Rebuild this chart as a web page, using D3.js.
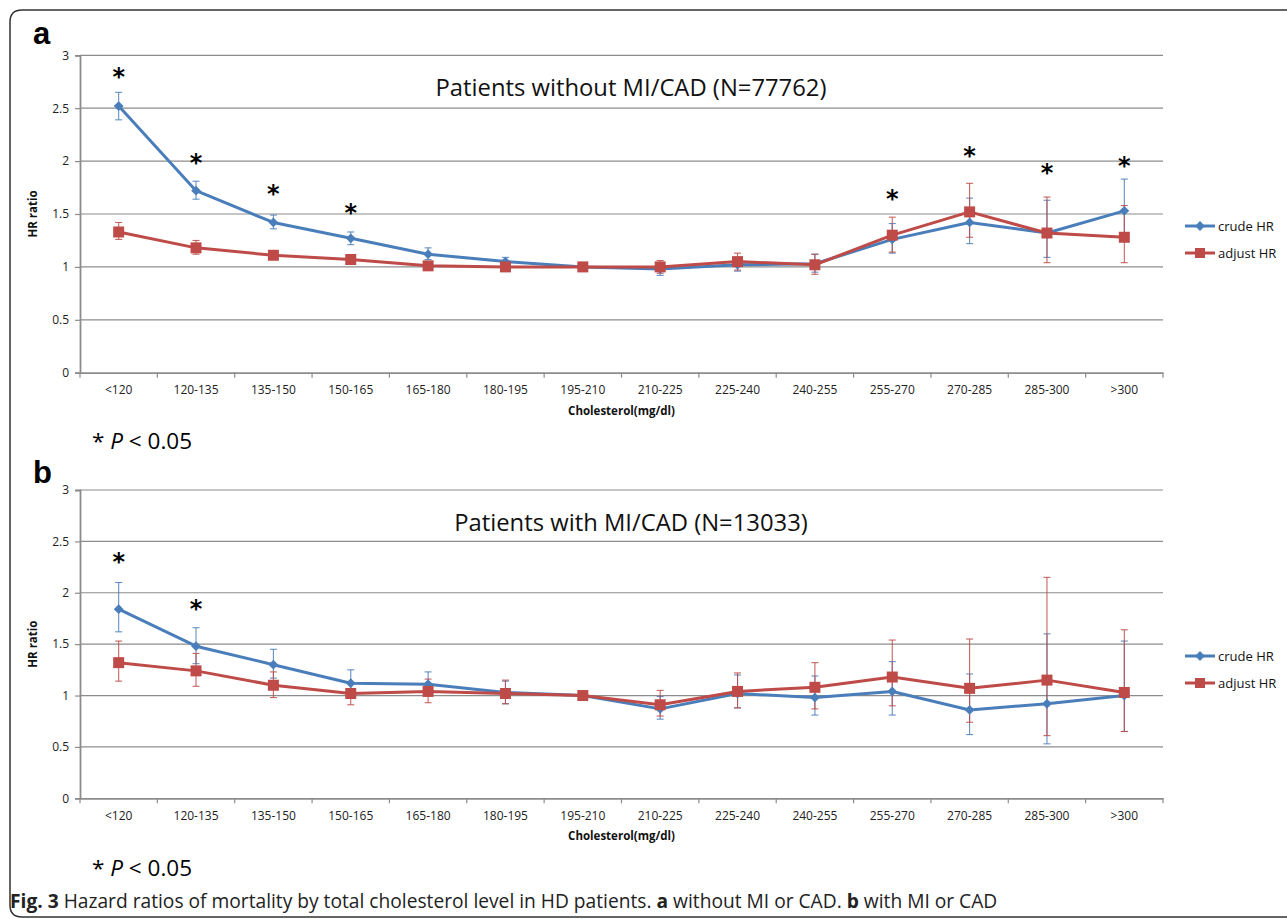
<!DOCTYPE html>
<html>
<head>
<meta charset="utf-8">
<script src="https://cdn.jsdelivr.net/npm/d3@7"></script>
<style>
  html, body { margin: 0; padding: 0; background: #fff; }
  svg { display: block; }
</style>
</head>
<body>
<svg id="chart" width="1287" height="919"></svg>
<script>
// ---------- DATA ----------
const categories = ["<120","120-135","135-150","150-165","165-180","180-195","195-210","210-225","225-240","240-255","255-270","270-285","285-300",">300"];
const yTicks = [0, 0.5, 1, 1.5, 2, 2.5, 3];
const seriesNames = ["crude HR", "adjust HR"];

// Panel a: without MI/CAD
const aCrude   = [2.52, 1.72, 1.42, 1.27, 1.12, 1.05, 1.00, 0.98, 1.02, 1.03, 1.26, 1.42, 1.32, 1.53];
const aCrudeLo = [2.39, 1.64, 1.36, 1.21, 1.07, 1.00, 1.00, 0.92, 0.96, 0.95, 1.13, 1.22, 1.09, 1.28];
const aCrudeHi = [2.65, 1.81, 1.49, 1.33, 1.18, 1.09, 1.00, 1.03, 1.09, 1.12, 1.41, 1.65, 1.63, 1.83];
const aAdj     = [1.33, 1.18, 1.11, 1.07, 1.01, 1.00, 1.00, 1.00, 1.05, 1.02, 1.30, 1.52, 1.32, 1.28];
const aAdjLo   = [1.26, 1.12, 1.07, 1.03, 0.98, 0.97, 1.00, 0.94, 0.97, 0.93, 1.14, 1.28, 1.04, 1.04];
const aAdjHi   = [1.42, 1.25, 1.14, 1.10, 1.04, 1.03, 1.00, 1.06, 1.13, 1.12, 1.47, 1.79, 1.66, 1.58];
const aStarCats = ["<120","120-135","135-150","150-165","255-270","270-285","285-300",">300"];
const aStarY    = [2.83, 2.02, 1.73, 1.55, 1.68, 2.09, 1.93, 1.99];

// Panel b: with MI/CAD
const bCrude   = [1.84, 1.48, 1.30, 1.12, 1.11, 1.03, 1.00, 0.87, 1.02, 0.98, 1.04, 0.86, 0.92, 1.00];
const bCrudeLo = [1.62, 1.31, 1.17, 1.00, 1.00, 0.92, 1.00, 0.77, 0.88, 0.81, 0.81, 0.62, 0.53, 0.65];
const bCrudeHi = [2.10, 1.66, 1.45, 1.25, 1.23, 1.14, 1.00, 0.99, 1.20, 1.19, 1.33, 1.21, 1.60, 1.53];
const bAdj     = [1.32, 1.24, 1.10, 1.02, 1.04, 1.02, 1.00, 0.91, 1.04, 1.08, 1.18, 1.07, 1.15, 1.03];
const bAdjLo   = [1.14, 1.09, 0.98, 0.91, 0.93, 0.92, 1.00, 0.80, 0.88, 0.87, 0.90, 0.74, 0.61, 0.65];
const bAdjHi   = [1.53, 1.41, 1.23, 1.12, 1.16, 1.15, 1.00, 1.05, 1.22, 1.32, 1.54, 1.55, 2.15, 1.64];
const bStarCats = ["<120","120-135"];
const bStarY    = [2.34, 1.88];

const titles = ["Patients without MI/CAD (N=77762)", "Patients with MI/CAD (N=13033)"];
const panelLetters = ["a", "b"];
const xAxisTitle = "Cholesterol(mg/dl)";
const yAxisTitle = "HR ratio";
const captionBold = "Fig. 3";
const captionParts = [" Hazard ratios of mortality by total cholesterol level in HD patients. ", "a", " without MI or CAD. ", "b", " with MI or CAD"];

// ---------- STYLE ----------
const BLUE = "#4A7EBB";
const RED = "#BE4B48";
const GRID = "#8c8c8c";
const AXIS = "#8c8c8c";
const FONT = "'Open Sans', 'Noto Sans', sans-serif";

const svg = d3.select("#chart");

// frame
svg.append("path")
  .attr("d", "M1295,10 L22,10 Q10,10 10,22 L10,905 Q10,917 22,917 L1295,917")
  .attr("fill", "none").attr("stroke", "#333").attr("stroke-width", 1.5);

function drawPanel(p) {
  const g = svg.append("g");
  const x = d3.scaleBand().domain(categories).range([p.left, p.right]);
  const y = d3.scaleLinear().domain([0, 3]).range([p.bottom, p.top]);

  // grid
  g.selectAll(".grid").data(yTicks.filter(t => t > 0)).join("line")
    .attr("x1", p.left).attr("x2", p.right)
    .attr("y1", d => y(d)).attr("y2", d => y(d))
    .attr("stroke", GRID).attr("stroke-width", 1.2);

  // y axis
  const yAxis = d3.axisLeft(y).tickValues(yTicks).tickSize(5).tickFormat(d3.format("~g"));
  const ya = g.append("g").attr("transform", `translate(${p.left},0)`).call(yAxis);
  ya.select(".domain").attr("stroke", AXIS).attr("stroke-width", 1.8);
  ya.selectAll(".tick line").attr("stroke", AXIS).attr("stroke-width", 1.2);
  ya.selectAll(".tick text").attr("font-family", FONT).attr("font-size", 12).attr("fill", "#222").attr("dx", "-3");

  // x axis
  const xa = g.append("g").attr("transform", `translate(0,${p.bottom})`)
    .call(d3.axisBottom(x).tickSize(0).tickPadding(13));
  xa.select(".domain").attr("stroke", AXIS).attr("stroke-width", 1.8);
  xa.selectAll(".tick text").attr("font-family", FONT).attr("font-size", 12).attr("fill", "#222");
  const bounds = categories.map(c => x(c)).concat([p.right]);
  g.selectAll(".xt").data(bounds).join("line")
    .attr("x1", d => d).attr("x2", d => d)
    .attr("y1", p.bottom).attr("y2", p.bottom + 5)
    .attr("stroke", AXIS).attr("stroke-width", 1.2);

  const cx = c => x(c) + x.bandwidth() / 2;

  // axis titles
  g.append("text").attr("x", (p.left + p.right) / 2).attr("y", p.bottom + 42)
    .attr("text-anchor", "middle").attr("font-family", FONT).attr("font-size", 11.5)
    .attr("font-weight", "bold").attr("fill", "#111").text(xAxisTitle);
  g.append("text").attr("transform", `translate(${p.left - 43},${(p.top + p.bottom) / 2}) rotate(-90)`)
    .attr("text-anchor", "middle").attr("font-family", FONT).attr("font-size", 11.5)
    .attr("font-weight", "bold").attr("fill", "#111").text(yAxisTitle);

  // title
  g.append("text").attr("x", 631).attr("y", p.top + 41)
    .attr("text-anchor", "middle").attr("font-family", FONT).attr("font-size", 23.8)
    .attr("fill", "#111").text(p.title);

  // panel letter
  svg.append("text").attr("x", 33).attr("y", p.letterY)
    .attr("font-family", "'Liberation Sans', Arial, sans-serif").attr("font-size", 31)
    .attr("font-weight", "bold").attr("fill", "#000").text(p.letter);

  const series = [
    {name: seriesNames[0], v: p.crude, lo: p.crudeLo, hi: p.crudeHi, color: BLUE, sym: "diamond"},
    {name: seriesNames[1], v: p.adj, lo: p.adjLo, hi: p.adjHi, color: RED, sym: "square"}
  ];

  // error bars
  series.forEach(s => {
    const eg = g.append("g");
    categories.forEach((c, i) => {
      if (s.hi[i] === s.lo[i]) return;
      const xx = cx(c);
      eg.append("line").attr("x1", xx).attr("x2", xx).attr("y1", y(s.lo[i])).attr("y2", y(s.hi[i]))
        .attr("stroke", s.color).attr("stroke-width", 1.1).attr("opacity", 0.85);
      [s.lo[i], s.hi[i]].forEach(v => {
        eg.append("line").attr("x1", xx - 3.5).attr("x2", xx + 3.5).attr("y1", y(v)).attr("y2", y(v))
          .attr("stroke", s.color).attr("stroke-width", 1.1).attr("opacity", 0.85);
      });
    });
  });

  const line = d3.line().x((d, i) => cx(categories[i])).y(d => y(d));
  series.forEach(s => {
    g.append("path").datum(s.v).attr("d", line)
      .attr("fill", "none").attr("stroke", s.color).attr("stroke-width", 3).attr("stroke-linejoin", "round");
    const m = g.append("g");
    s.v.forEach((v, i) => {
      const xx = cx(categories[i]), yy = y(v);
      if (s.sym === "diamond") {
        m.append("path").attr("d", d3.symbol().type(d3.symbolSquare).size(48)())
          .attr("transform", `translate(${xx},${yy}) rotate(45)`).attr("fill", s.color);
      } else {
        m.append("path").attr("d", d3.symbol().type(d3.symbolSquare).size(121)())
          .attr("transform", `translate(${xx},${yy})`).attr("fill", s.color);
      }
    });
  });

  // stars
  p.starCats.forEach((c, i) => {
    g.append("text").attr("x", cx(c)).attr("y", y(p.starY[i]) + 12)
      .attr("text-anchor", "middle").attr("font-family", "'DejaVu Sans', sans-serif")
      .attr("font-size", 24).attr("font-weight", "bold").attr("fill", "#000").text("*");
  });

  // legend
  series.forEach((s, i) => {
    const ly = p.legendY + i * 27;
    g.append("line").attr("x1", 1185).attr("x2", 1215).attr("y1", ly).attr("y2", ly)
      .attr("stroke", s.color).attr("stroke-width", 3);
    if (s.sym === "diamond") {
      g.append("path").attr("d", d3.symbol().type(d3.symbolSquare).size(48)())
        .attr("transform", `translate(1200,${ly}) rotate(45)`).attr("fill", s.color);
    } else {
      g.append("path").attr("d", d3.symbol().type(d3.symbolSquare).size(100)())
        .attr("transform", `translate(1200,${ly})`).attr("fill", s.color);
    }
    g.append("text").attr("x", 1218).attr("y", ly + 4.5).attr("font-family", FONT)
      .attr("font-size", 13).attr("fill", "#111").text(s.name);
  });

  // significance note
  const note = svg.append("text").attr("x", 92).attr("y", p.noteY)
    .attr("font-family", FONT).attr("font-size", 22.5).attr("fill", "#000");
  note.append("tspan").text("* ");
  note.append("tspan").attr("font-style", "italic").text("P");
  note.append("tspan").text(" < 0.05");
}

drawPanel({
  top: 55.3, bottom: 372.7, left: 80, right: 1163,
  title: titles[0], letter: panelLetters[0], letterY: 44,
  crude: aCrude, crudeLo: aCrudeLo, crudeHi: aCrudeHi,
  adj: aAdj, adjLo: aAdjLo, adjHi: aAdjHi,
  starCats: aStarCats, starY: aStarY,
  legendY: 226, noteY: 449
});
drawPanel({
  top: 490, bottom: 798.3, left: 80, right: 1163,
  title: titles[1], letter: panelLetters[1], letterY: 483,
  crude: bCrude, crudeLo: bCrudeLo, crudeHi: bCrudeHi,
  adj: bAdj, adjLo: bAdjLo, adjHi: bAdjHi,
  starCats: bStarCats, starY: bStarY,
  legendY: 656, noteY: 876
});

// caption
const cap = svg.append("text").attr("x", 10).attr("y", 908)
  .attr("font-family", FONT).attr("font-size", 19.2).attr("fill", "#222");
cap.append("tspan").attr("font-weight", "bold").text(captionBold);
captionParts.forEach((t, i) => {
  const ts = cap.append("tspan").text(t);
  if (i === 1 || i === 3) ts.attr("font-weight", "bold");
});
</script>
</body>
</html>
